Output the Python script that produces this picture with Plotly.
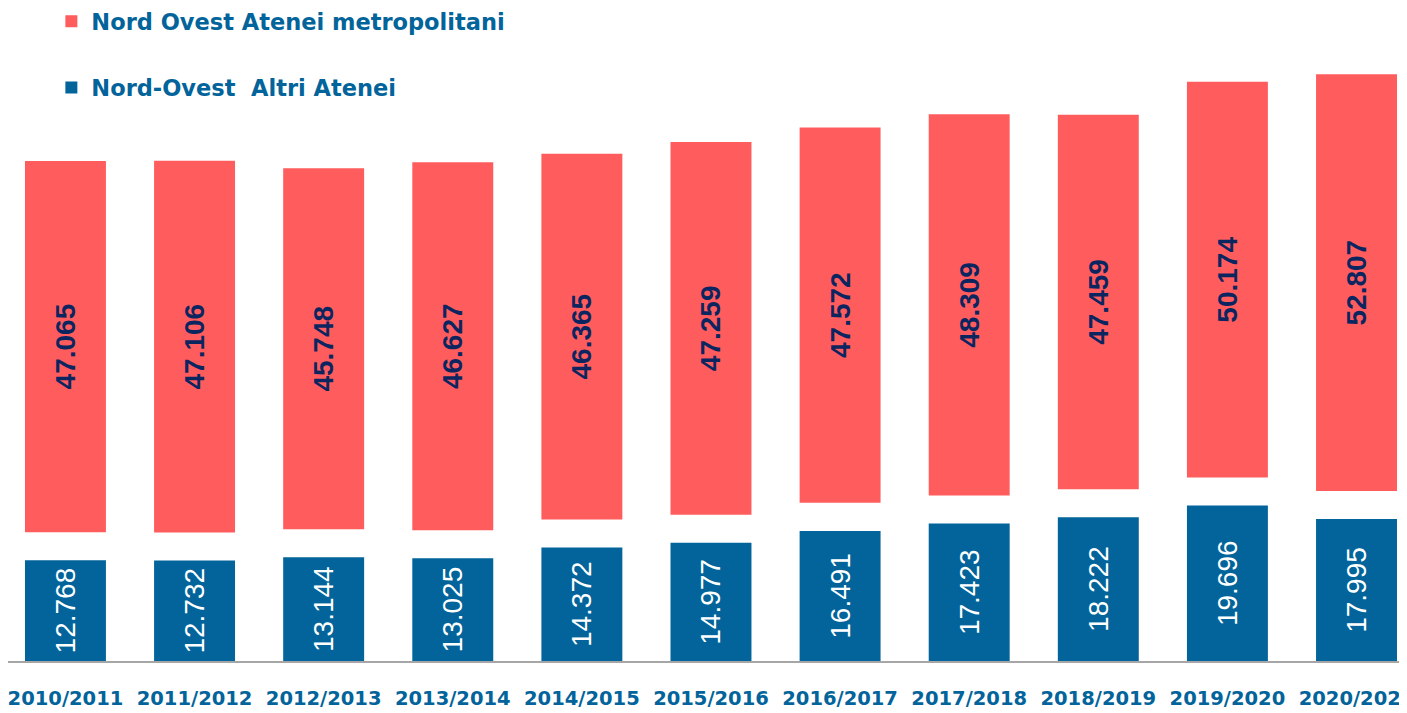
import plotly.graph_objects as go

# Academic years and enrolments
years = ["2010/2011", "2011/2012", "2012/2013", "2013/2014", "2014/2015", "2015/2016",
         "2016/2017", "2017/2018", "2018/2019", "2019/2020", "2020/2021"]
altri_atenei = [12768, 12732, 13144, 13025, 14372, 14977, 16491, 17423, 18222, 19696, 17995]
atenei_metro = [47065, 47106, 45748, 46627, 46365, 47259, 47572, 48309, 47459, 50174, 52807]

BLUE = "#02649A"
RED = "#FF5D5D"
NAVY = "#0B2560"
GAP = 3550  # white space between the two segments (data units)

fig = go.Figure()

fig.add_trace(go.Bar(
    x=years, y=altri_atenei,
    name="Nord-Ovest  Altri Atenei",
    legendgroup="altri",
    marker=dict(color=BLUE, line=dict(width=0)),
    texttemplate="%{y:,.0f}",
    textposition="inside",
    insidetextanchor="middle",
    textangle=-90,
    textfont=dict(family="Liberation Sans", size=28, color="white"),
    legendrank=2,
    width=0.627,
))

fig.add_trace(go.Bar(
    x=years, y=atenei_metro,
    base=[b + GAP for b in altri_atenei],
    name="Nord Ovest Atenei metropolitani",
    legendgroup="metro",
    marker=dict(color=RED, line=dict(width=0)),
    texttemplate="%{y:,.0f}",
    textposition="inside",
    insidetextanchor="middle",
    textangle=-90,
    textfont=dict(family="Liberation Sans", size=28, color=NAVY, weight="bold"),
    legendrank=1,
    width=0.627,
))

# the page body adds an 8px margin, so the figure is 8px smaller each way
fig.update_layout(
    width=1399, height=705,
    barmode="overlay",
    separators=",.",
    paper_bgcolor="white",
    plot_bgcolor="white",
    margin=dict(l=0, r=0, t=0, b=52, autoexpand=False),
    showlegend=True,
    legend=dict(
        x=0.031, y=1.012, xanchor="left", yanchor="top",
        orientation="v",
        font=dict(family="DejaVu Sans", size=22.5, color=BLUE, weight="bold"),
        itemwidth=30,
        tracegroupgap=34,
        traceorder="grouped",
        bgcolor="rgba(0,0,0,0)",
    ),
    xaxis=dict(
        type="category",
        range=[-0.445, 10.391],
        automargin=False,
        showgrid=False,
        showline=True, linecolor="#A6A6A6", linewidth=2,
        ticks="",
        ticklabelstandoff=19,
        tickfont=dict(family="DejaVu Sans", size=19.5, color=BLUE, weight="bold"),
        fixedrange=True,
    ),
    yaxis=dict(
        range=[0, 82760],
        visible=False,
        automargin=False,
        showgrid=False,
        zeroline=False,
    ),
)

fig.write_html("out.html")
